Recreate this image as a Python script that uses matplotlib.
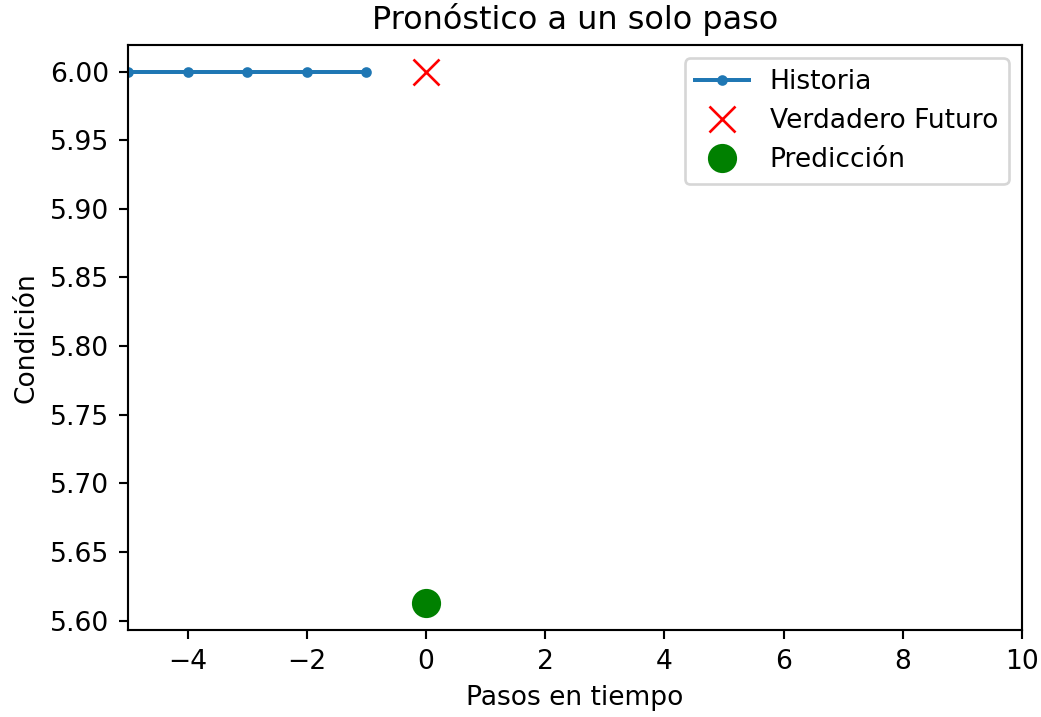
import matplotlib
matplotlib.use('Agg')
import matplotlib.pyplot as plt

hist_t = [-5, -4, -3, -2, -1]
hist_y = [6.0, 6.0, 6.0, 6.0, 6.0]
true_t = [0]
true_y = [6.0]
pred_t = [0]
pred_y = [5.6125]

dpi = 191
fig = plt.figure(figsize=(1041/dpi, 717/dpi), dpi=dpi)
ax = fig.add_axes([128/1041, 1-630/717, (1022-128)/1041, (630-45)/717])
ax.plot(hist_t, hist_y, '.-', label='Historia')
ax.plot(true_t, true_y, 'rx', markersize=10, label='Verdadero Futuro')
ax.plot(pred_t, pred_y, 'go', markersize=10, label='Predicción')
ax.legend(loc='upper right')
ax.set_xlim(-5, 10)
ax.set_title('Pronóstico a un solo paso')
ax.set_xlabel('Pasos en tiempo')
ax.set_ylabel('Condición')
fig.savefig('out.png', dpi=dpi)
